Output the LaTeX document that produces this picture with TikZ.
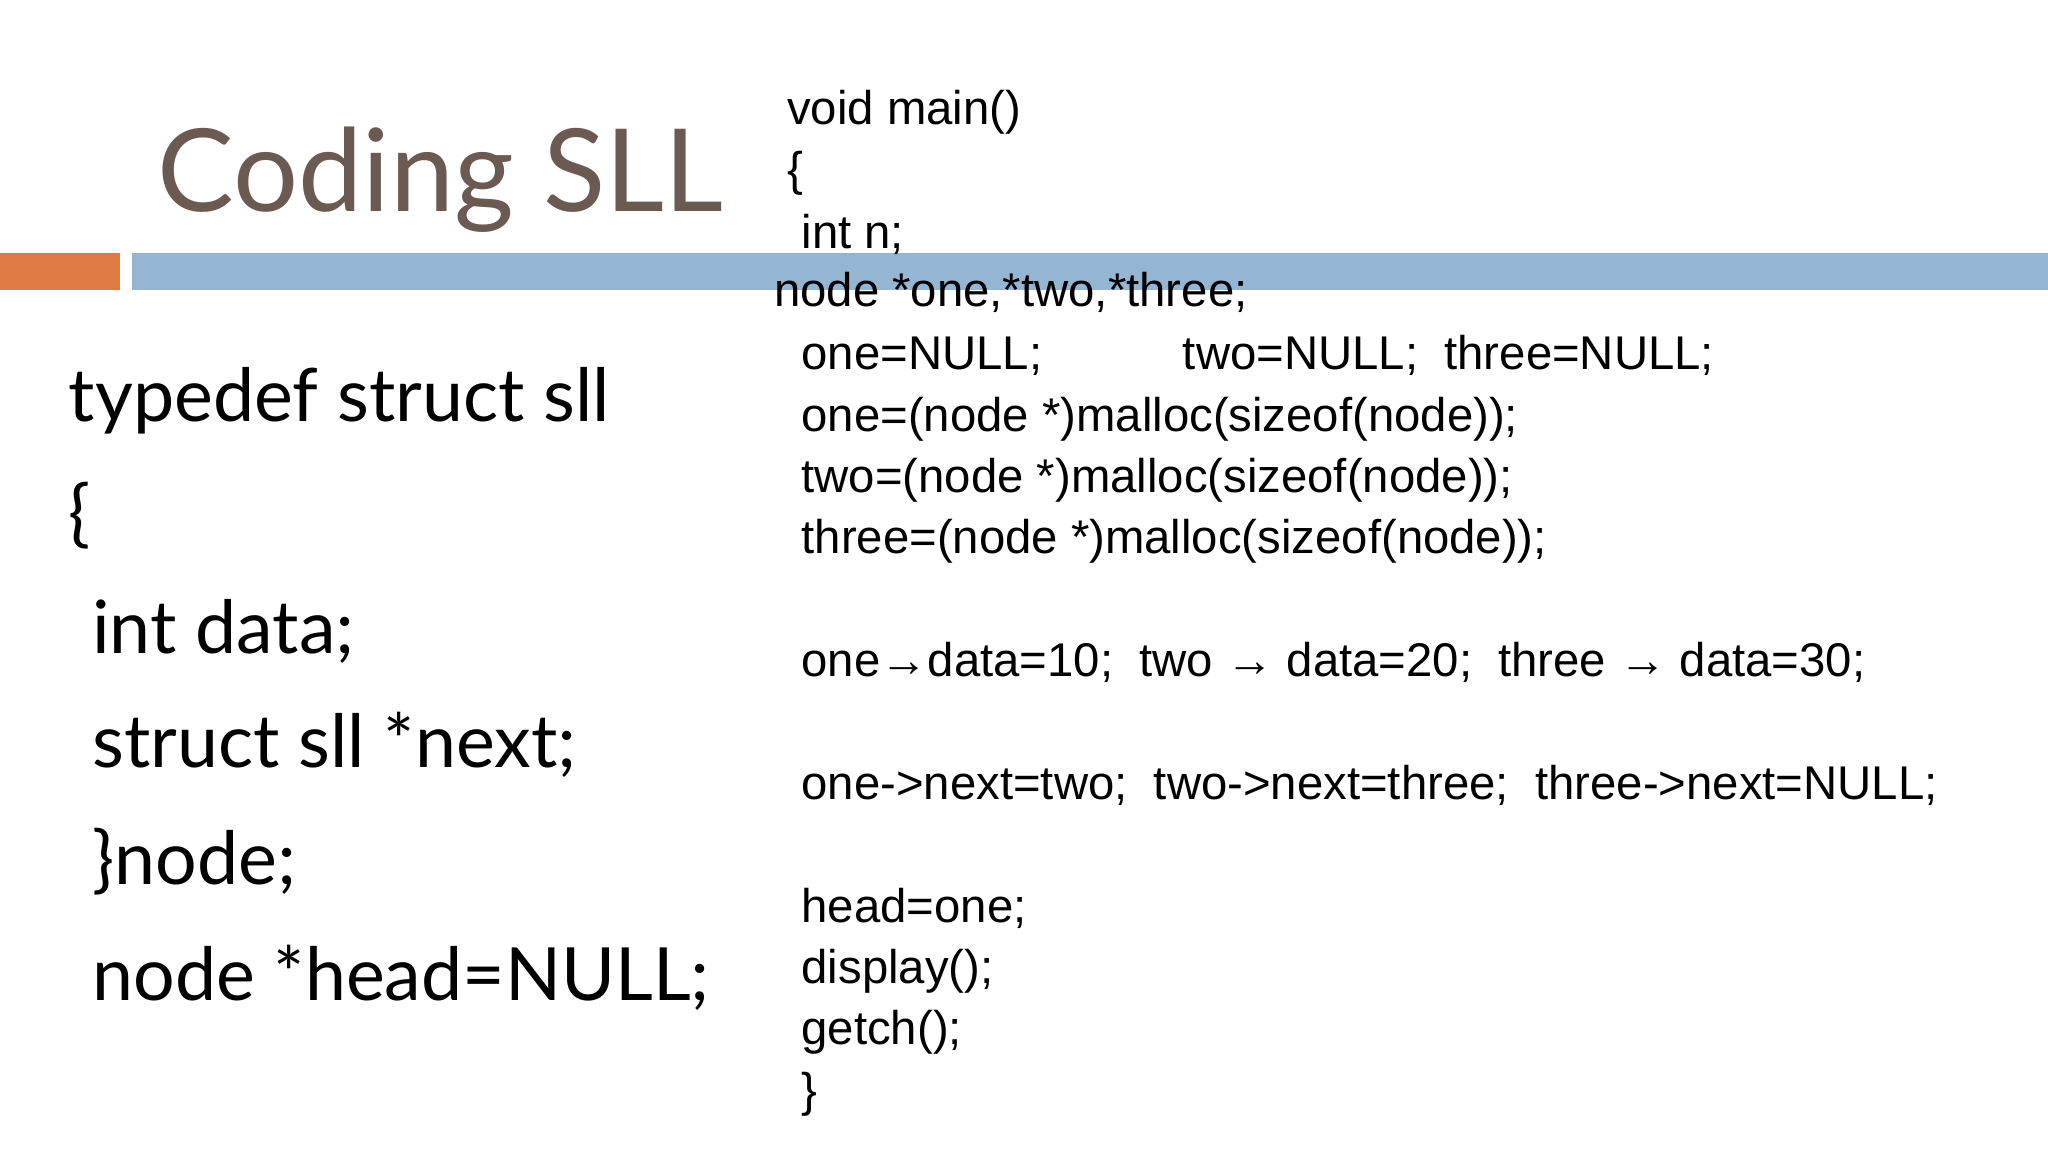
\documentclass[tikz,border=0pt]{standalone}
\usepackage{fontspec}
\setmainfont{Liberation Sans}
\newfontfamily\titlefont{Lato}
\definecolor{titlec}{HTML}{6B5A52}
\definecolor{orangebar}{HTML}{E07B45}
\definecolor{bluebar}{HTML}{94B6D2}
\begin{document}
\begin{tikzpicture}[x=0.01cm,y=-0.01cm,
  code/.style={anchor=base west,inner sep=0pt,font=\fontsize{10.3pt}{12pt}\selectfont},
  lcode/.style={anchor=base west,inner sep=0pt,font=\titlefont\fontsize{16pt}{19pt}\selectfont}]
\fill[white] (0,0) rectangle (1568,882);
\useasboundingbox (0,0) rectangle (1568,882);
\fill[orangebar] (0,194) rectangle (92,222);
\fill[bluebar] (101,194) rectangle (1568,222);
\node[anchor=base west,inner sep=0pt,text=titlec,font=\titlefont\fontsize{25pt}{30pt}\selectfont] (t) at (120,162) {Coding SLL};
\node[lcode] (l1) at (52,323) {typedef struct sll};
\node[lcode] (l2) at (52,412) {\{};
\node[lcode] (l3) at (70,500) {int data;};
\node[lcode] (l4) at (70,588) {struct sll *next;};
\node[lcode] (l5) at (70,677) {\}node;};
\node[lcode] (l6) at (70,766) {node *head=NULL;};
\node[code] (r1) at (602,95) {void main()};
\node[code] (r2) at (602,142) {\{};
\node[code] (r3) at (613,190) {int n;};
\node[code] (r4) at (592,235) {node *one,*two,*three;};
\node[code] (r5) at (613,283) {one=NULL;};
\node[code] (r5b) at (905,283) {two=NULL;\ \ three=NULL;};
\node[code] (r6) at (613,330) {one=(node *)malloc(sizeof(node));};
\node[code] (r7) at (613,377) {two=(node *)malloc(sizeof(node));};
\node[code] (r8) at (613,424) {three=(node *)malloc(sizeof(node));};
\node[code] (r9) at (613,518) {one→data=10;\ \ two → data=20;\ \ three → data=30;};
\node[code] (r10) at (613,612) {one->next=two;\ \ two->next=three;\ \ three->next=NULL;};
\node[code] (r11) at (613,706) {head=one;};
\node[code] (r12) at (613,753) {display();};
\node[code] (r13) at (613,800) {getch();};
\node[code] (r14) at (613,847) {\}};
\end{tikzpicture}
\end{document}
